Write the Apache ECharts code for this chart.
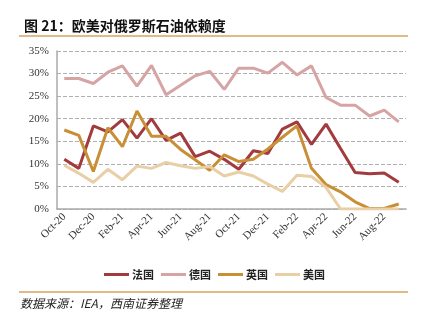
<!DOCTYPE html>
<html>
<head>
<meta charset="utf-8">
<script src="https://cdn.jsdelivr.net/npm/echarts@6/dist/echarts.min.js"></script>
<style>
html,body{margin:0;padding:0;background:#fff;}
#chart{width:429px;height:323px;}
</style>
</head>
<body>
<div id="chart"></div>
<script>
var categories = ['Oct-20','Nov-20','Dec-20','Jan-21','Feb-21','Mar-21','Apr-21','May-21','Jun-21','Jul-21','Aug-21','Sep-21','Oct-21','Nov-21','Dec-21','Jan-22','Feb-22','Mar-22','Apr-22','May-22','Jun-22','Jul-22','Aug-22','Sep-22'];
var franceValues = [11.0, 9.0, 18.4, 17.1, 19.8, 15.7, 20.0, 15.2, 16.8, 11.6, 12.8, 11.0, 8.8, 12.9, 12.3, 17.7, 19.3, 14.3, 18.8, 13.4, 8.1, 7.8, 8.0, 5.9];
var germanyValues = [28.9, 28.9, 27.8, 30.3, 31.7, 27.2, 31.8, 25.3, 27.4, 29.5, 30.5, 26.5, 31.2, 31.2, 30.1, 32.5, 29.7, 31.7, 24.7, 23.0, 23.0, 20.6, 21.9, 19.3];
var ukValues = [17.5, 16.3, 8.3, 18.0, 13.8, 21.7, 16.1, 16.1, 13.2, 10.9, 8.6, 12.0, 10.5, 11.0, 13.3, 15.9, 18.4, 9.0, 5.4, 3.8, 1.6, 0.1, 0.1, 1.1];
var usValues = [9.7, 7.9, 5.9, 8.8, 6.5, 9.5, 9.0, 10.3, 9.6, 9.0, 9.4, 7.3, 8.2, 7.3, 5.5, 3.9, 7.5, 7.2, 4.8, 0, 0, 0, 0, 0];
var seriesNames = ['法国', '德国', '英国', '美国'];
var titleText = '图 21：欧美对俄罗斯石油依赖度';
var sourceText = '数据来源：IEA，西南证券整理';

var colors = ['#A23B3D', '#D6A4A4', '#C98F37', '#E8CFA6'];
var chart = echarts.init(document.getElementById('chart'), null, {renderer: 'canvas'});
function mk(name, data, i) {
  return {
    name: name, type: 'line', data: data, symbol: 'none', smooth: false,
    lineStyle: {width: 3, color: colors[i]}, itemStyle: {color: colors[i]}
  };
}
chart.setOption({
  animation: false,
  backgroundColor: '#fff',
  title: {
    text: titleText, left: 19, top: 14,
    textStyle: {fontFamily: 'Noto Sans CJK SC', fontWeight: 'bold', fontSize: 14, color: '#111'}
  },
  graphic: [
    {type: 'line', shape: {x1: 19, y1: 36, x2: 408, y2: 36}, style: {stroke: '#D9A35E', lineWidth: 1.5}},
    {type: 'line', shape: {x1: 19, y1: 292, x2: 408, y2: 292}, style: {stroke: '#D9A35E', lineWidth: 1.5}},
    {type: 'text', left: 20, top: 297, style: {text: sourceText, font: 'italic 12px "Noto Sans CJK SC"', fill: '#222'}}
  ],
  legend: {
    data: seriesNames, left: 'center', top: 264, icon: 'rect', itemWidth: 25, itemHeight: 3, itemGap: 7,
    textStyle: {fontFamily: 'Noto Sans CJK SC', fontWeight: 'bold', fontSize: 11, color: '#222', padding: [0,0,0,-2]}
  },
  grid: {left: 57, right: 23, top: 51, bottom: 114, containLabel: false},
  xAxis: {
    type: 'category', data: categories, boundaryGap: true,
    axisLine: {lineStyle: {color: '#AAAAAA', width: 1.5}},
    axisTick: {interval: 1, length: 4, lineStyle: {color: '#AAAAAA', width: 1.5}},
    axisLabel: {interval: 1, rotate: 45, fontFamily: 'Liberation Serif', fontSize: 11, color: '#333', margin: 6},
    splitLine: {show: false}
  },
  yAxis: {
    type: 'value', min: 0, max: 35, interval: 5,
    axisLine: {show: true, lineStyle: {color: '#AAAAAA', width: 1.5}},
    axisTick: {show: false},
    axisLabel: {formatter: '{value}%', fontFamily: 'Liberation Serif', fontSize: 11, color: '#333', margin: 8},
    splitLine: {show: true, lineStyle: {color: '#B0B0B0', type: [4, 2], width: 1.2}}
  },
  series: [
    mk(seriesNames[0], franceValues, 0),
    mk(seriesNames[1], germanyValues, 1),
    mk(seriesNames[2], ukValues, 2),
    mk(seriesNames[3], usValues, 3)
  ]
});
</script>
</body>
</html>
